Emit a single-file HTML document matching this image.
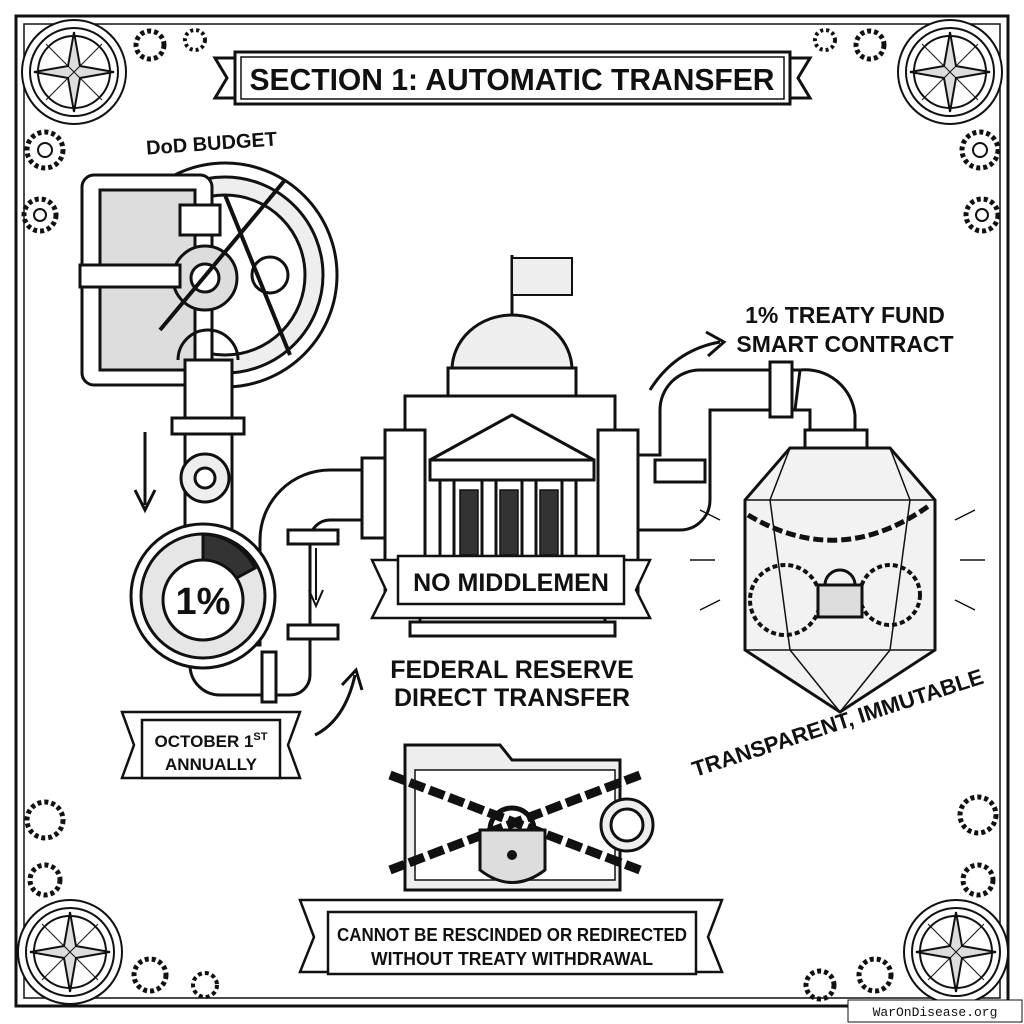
<!DOCTYPE html>
<html><head><meta charset="utf-8"><style>
html,body{margin:0;padding:0;background:#fff}
svg{display:block}
text{font-family:"Liberation Sans",sans-serif;font-weight:bold;fill:#111}
</style></head><body>
<svg width="1024" height="1024" viewBox="0 0 1024 1024" xmlns="http://www.w3.org/2000/svg">
<defs>
<g id="comp" fill="none" stroke="#111" stroke-width="2"><circle cx="0" cy="0" r="52" fill="#fff"/><circle r="44"/><circle r="36"/><circle r="8"/>
<path d="M0-40L6-6L40 0L6 6L0 40L-6 6L-40 0L-6-6Z" fill="#ddd"/><path d="M-28-28L28 28M28-28L-28 28" stroke-width="1"/></g>
</defs>
<rect width="1024" height="1024" fill="#fff"/>
<!-- frame -->
<rect x="16" y="16" width="992" height="990" fill="none" stroke="#111" stroke-width="3"/>
<rect x="24" y="24" width="976" height="974" fill="none" stroke="#111" stroke-width="1.5"/>
<use href="#comp" x="74" y="72"/><use href="#comp" x="950" y="72"/><use href="#comp" x="70" y="952"/><use href="#comp" x="956" y="952"/>
<!-- gears along edges -->
<g fill="none" stroke="#111" stroke-width="2">
<circle cx="45" cy="150" r="18" stroke-dasharray="4 3" stroke-width="5"/><circle cx="45" cy="150" r="7"/>
<circle cx="40" cy="215" r="16" stroke-dasharray="4 3" stroke-width="5"/><circle cx="40" cy="215" r="6"/>
<circle cx="980" cy="150" r="18" stroke-dasharray="4 3" stroke-width="5"/><circle cx="980" cy="150" r="7"/>
<circle cx="982" cy="215" r="16" stroke-dasharray="4 3" stroke-width="5"/><circle cx="982" cy="215" r="6"/>
<circle cx="45" cy="820" r="18" stroke-dasharray="4 3" stroke-width="5"/><circle cx="45" cy="880" r="15" stroke-dasharray="4 3" stroke-width="5"/>
<circle cx="978" cy="815" r="18" stroke-dasharray="4 3" stroke-width="5"/><circle cx="978" cy="880" r="15" stroke-dasharray="4 3" stroke-width="5"/>
<circle cx="150" cy="45" r="14" stroke-dasharray="4 3" stroke-width="5"/><circle cx="195" cy="40" r="10" stroke-dasharray="3 3" stroke-width="4"/>
<circle cx="870" cy="45" r="14" stroke-dasharray="4 3" stroke-width="5"/><circle cx="825" cy="40" r="10" stroke-dasharray="3 3" stroke-width="4"/>
<circle cx="150" cy="975" r="16" stroke-dasharray="4 3" stroke-width="5"/><circle cx="205" cy="985" r="12" stroke-dasharray="4 3" stroke-width="4"/>
<circle cx="820" cy="985" r="14" stroke-dasharray="4 3" stroke-width="5"/><circle cx="875" cy="975" r="16" stroke-dasharray="4 3" stroke-width="5"/>
</g>
<!-- title banner -->
<path d="M215 58H810L798 78L810 98H215L227 78Z" fill="#fff" stroke="#111" stroke-width="3"/>
<rect x="235" y="52" width="555" height="52" fill="#fff" stroke="#111" stroke-width="3"/>
<rect x="241" y="57" width="543" height="42" fill="none" stroke="#111" stroke-width="1.5"/>
<text x="512" y="90" font-size="31" text-anchor="middle" textLength="525" lengthAdjust="spacingAndGlyphs">SECTION 1: AUTOMATIC TRANSFER</text>
<!-- DoD budget -->
<text x="212" y="150" font-size="20" text-anchor="middle" transform="rotate(-4 212 150)">DoD BUDGET</text>
<!-- vault -->
<g fill="#fff" stroke="#111" stroke-width="3">
<circle cx="225" cy="275" r="112"/><circle cx="225" cy="275" r="98" fill="#eee"/><circle cx="225" cy="275" r="80"/>
<rect x="82" y="175" width="130" height="210" rx="12"/>
<rect x="100" y="190" width="95" height="180" fill="#ddd"/>
<rect x="180" y="205" width="40" height="30"/>
<circle cx="205" cy="278" r="32" fill="#ddd"/><circle cx="205" cy="278" r="14"/>
<circle cx="270" cy="275" r="18"/>
<path d="M225 195L290 355M160 330L285 180" fill="none" stroke-width="4"/>
<rect x="80" y="265" width="100" height="22"/>
</g>
<!-- pipes -->
<g fill="#fff" stroke="#111" stroke-width="3">
<path d="M185 360V530H232V360Z"/>
<path d="M178 360a30 30 0 0 1 60 0" fill="none"/>
<rect x="172" y="418" width="72" height="16"/>
<circle cx="205" cy="478" r="24" fill="#eee"/><circle cx="205" cy="478" r="10"/>
<path d="M190 640V665a30 30 0 0 0 30 30H290a20 20 0 0 0 20-20V540a20 20 0 0 1 20-20H380V470H330a70 70 0 0 0-70 70V645H240V640Z"/>
<rect x="262" y="652" width="14" height="50"/>
<rect x="288" y="530" width="50" height="14"/><rect x="288" y="625" width="50" height="14"/>
<rect x="362" y="458" width="28" height="80"/>
<path d="M630 455H660V410a40 40 0 0 1 40-40H800V410H710V500a30 30 0 0 1-30 30H630Z"/>
<rect x="655" y="460" width="50" height="22"/><rect x="770" y="362" width="22" height="55"/>
<path d="M800 370a50 50 0 0 1 55 45V440H810V410H795Z"/>
<rect x="805" y="430" width="62" height="18"/>
</g>
<!-- arrows -->
<g fill="none" stroke="#111" stroke-width="3">
<path d="M145 432V505M135 490L145 510L155 490"/>
<path d="M316 548V600M309 590L316 606L323 590" stroke-width="2"/>
<path d="M315 735Q345 720 355 675M342 685L356 670L362 690"/>
<path d="M650 390Q675 350 720 342M706 332L724 342L708 356"/>
</g>
<!-- gauge -->
<g stroke="#111" stroke-width="3">
<circle cx="203" cy="596" r="72" fill="#fff"/><circle cx="203" cy="596" r="62" fill="#e6e6e6"/>
<path d="M203 534A62 62 0 0 1 255 568L203 596Z" fill="#333"/>
<circle cx="203" cy="600" r="40" fill="#fff"/>
</g>
<text x="203" y="614" font-size="38" text-anchor="middle">1%</text>
<!-- october banner -->
<path d="M122 712H300L288 745L300 778H122L134 745Z" fill="#fff" stroke="#111" stroke-width="2.5"/>
<rect x="142" y="720" width="138" height="58" fill="#fff" stroke="#111" stroke-width="2.5"/>
<text x="211" y="747" font-size="17" text-anchor="middle">OCTOBER 1<tspan font-size="11" dy="-7">ST</tspan></text>
<text x="211" y="770" font-size="17" text-anchor="middle">ANNUALLY</text>
<!-- building -->
<g fill="#fff" stroke="#111" stroke-width="3">
<line x1="512" y1="255" x2="512" y2="320"/>
<path d="M512 258H572V295H512Z" fill="#eee" stroke-width="2"/>
<path d="M452 370A60 55 0 0 1 572 370Z" fill="#eee"/>
<rect x="448" y="368" width="128" height="28"/>
<rect x="405" y="396" width="210" height="215"/>
<rect x="385" y="430" width="40" height="175"/><rect x="598" y="430" width="40" height="175"/>
<path d="M430 460L512 415L594 460Z"/>
<rect x="430" y="460" width="164" height="20"/>
<g fill="#333" stroke-width="1.5"><rect x="460" y="490" width="18" height="65"/><rect x="500" y="490" width="18" height="65"/><rect x="540" y="490" width="18" height="65"/></g>
<rect x="440" y="480" width="14" height="80"/><rect x="482" y="480" width="14" height="80"/><rect x="522" y="480" width="14" height="80"/><rect x="562" y="480" width="14" height="80"/>
<rect x="420" y="610" width="185" height="12"/><rect x="410" y="622" width="205" height="14"/>
</g>
<path d="M372 560H650L636 590L650 618H372L386 590Z" fill="#fff" stroke="#111" stroke-width="2.5"/>
<rect x="398" y="556" width="226" height="48" fill="#fff" stroke="#111" stroke-width="2.5"/>
<text x="511" y="591" font-size="25" text-anchor="middle">NO MIDDLEMEN</text>
<text x="512" y="678" font-size="25" text-anchor="middle">FEDERAL RESERVE</text>
<text x="512" y="706" font-size="25" text-anchor="middle">DIRECT TRANSFER</text>
<!-- fund label -->
<text x="845" y="323" font-size="23" text-anchor="middle">1% TREATY FUND</text>
<text x="845" y="352" font-size="23" text-anchor="middle">SMART CONTRACT</text>
<!-- crystal -->
<g fill="#fff" stroke="#111" stroke-width="3">
<path d="M790 448H890L935 500V650L840 712L745 650V500Z" fill="#f2f2f2"/>
<path d="M790 448L770 500L790 650L840 712L890 650L910 500L890 448M745 500H935M745 650H935" fill="none" stroke-width="1.5"/>
<circle cx="785" cy="600" r="35" fill="none" stroke-dasharray="5 3" stroke-width="4"/>
<circle cx="890" cy="595" r="30" fill="none" stroke-dasharray="5 3" stroke-width="4"/>
<path d="M748 515Q840 570 930 505" fill="none" stroke-width="5" stroke-dasharray="10 4"/>
<path d="M825 585a15 15 0 0 1 30 0" fill="none"/><rect x="818" y="585" width="44" height="32" fill="#ddd"/>
</g>
<g stroke="#111" stroke-width="1.5"><path d="M720 520L700 510M715 560L690 560M720 600L700 610M955 520L975 510M960 560L985 560M955 600L975 610"/></g>
<text x="840" y="730" font-size="22" text-anchor="middle" transform="rotate(-18 840 730)">TRANSPARENT, IMMUTABLE</text>
<!-- lock box -->
<g fill="#fff" stroke="#111" stroke-width="3">
<path d="M405 745H500L512 760H620V890H405Z" fill="#eee"/>
<rect x="415" y="770" width="200" height="110" fill="#fff" stroke-width="1.5"/>
<path d="M390 775L640 870M640 775L390 870" fill="none" stroke-width="9" stroke-dasharray="16 5"/>
<path d="M490 830a22 22 0 0 1 44 0" fill="none" stroke-width="5"/>
<path d="M480 830H545V870Q512 895 480 870Z" fill="#ddd"/>
<circle cx="627" cy="825" r="26" fill="#eee"/><circle cx="627" cy="825" r="16"/>
</g>
<circle cx="512" cy="855" r="5" fill="#111"/>
<!-- bottom banner -->
<path d="M300 900H722L708 937L722 972H300L314 937Z" fill="#fff" stroke="#111" stroke-width="2.5"/>
<rect x="328" y="912" width="368" height="62" fill="#fff" stroke="#111" stroke-width="2.5"/>
<text x="512" y="941" font-size="18" text-anchor="middle" textLength="350" lengthAdjust="spacingAndGlyphs">CANNOT BE RESCINDED OR REDIRECTED</text>
<text x="512" y="965" font-size="18" text-anchor="middle" textLength="282" lengthAdjust="spacingAndGlyphs">WITHOUT TREATY WITHDRAWAL</text>
<!-- watermark -->
<rect x="848" y="1000" width="174" height="22" fill="#fff" stroke="#111" stroke-width="1"/>
<text x="935" y="1016" font-size="13" text-anchor="middle" style="font-family:'Liberation Mono',monospace;font-weight:normal">WarOnDisease.org</text>
</svg>
</body></html>
